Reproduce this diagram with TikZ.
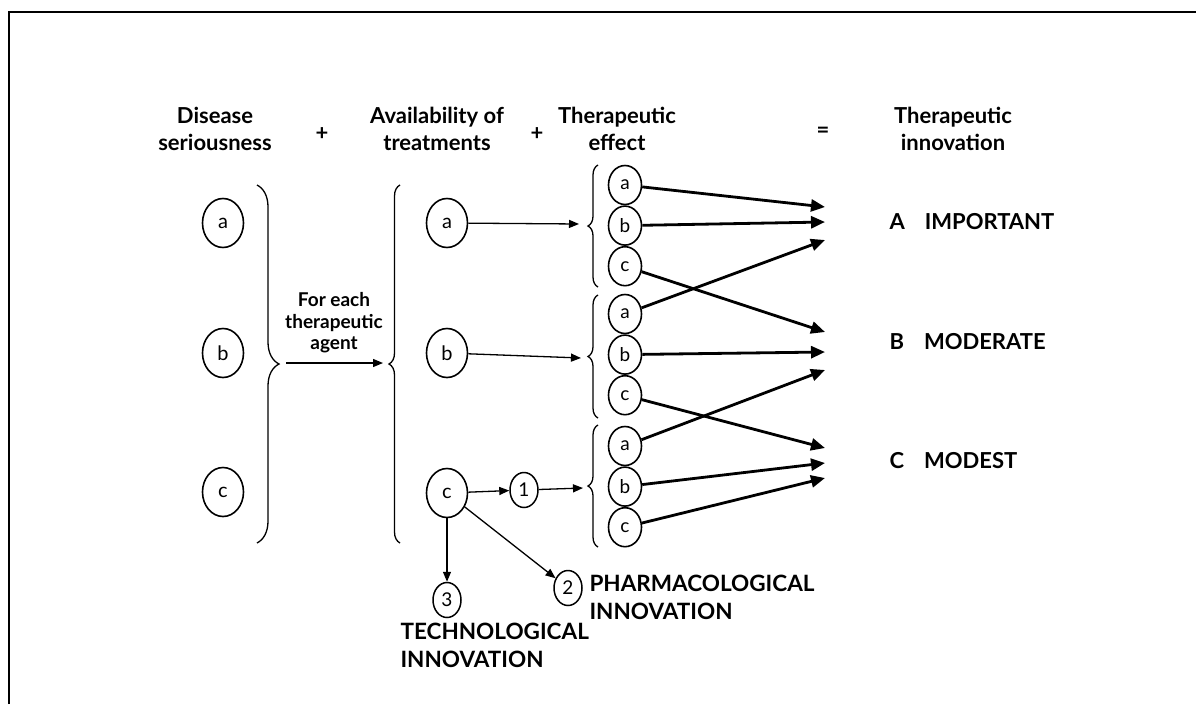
\documentclass[tikz,border=0pt]{standalone}
\usepackage{fontspec}
\setmainfont{Lato}
\usetikzlibrary{shapes.geometric,arrows.meta,decorations.pathreplacing,positioning}
\begin{document}
\begin{tikzpicture}[x=1pt,y=-1pt,
    rond/.style={draw,ellipse,line width=1.6pt,inner sep=0pt,minimum width=41pt,minimum height=49pt,font=\fontsize{20}{20}\selectfont},
    petit/.style={draw,ellipse,line width=1.6pt,inner sep=0pt,minimum width=33pt,minimum height=39pt,font=\fontsize{19}{19}\selectfont},
    chiffre/.style={draw,ellipse,line width=1.5pt,inner sep=0pt,minimum width=28pt,minimum height=35pt,font=\fontsize{19}{19}\selectfont},
    titre/.style={align=center,font=\fontsize{22}{27}\selectfont\bfseries},
    niveau/.style={anchor=west,font=\fontsize{22}{22}\selectfont\bfseries},
    innov/.style={anchor=west,align=left,font=\fontsize{22.5}{28}\selectfont\bfseries},
    fleche/.style={line width=1.3pt,-{Triangle[length=10pt,width=8pt]}},
    grosse/.style={line width=2.8pt,-{Triangle[length=14pt,width=12pt]}},
    accolade/.style={decorate,decoration={brace,amplitude=#1},line width=1.3pt}]
    \useasboundingbox (0,0) rectangle (1196,704);
    \draw[line width=2.5pt] (9,704) -- (9,12) -- (1196,12); %Cadre
    % Titres
    \node[titre] (h1) at (215,129) {Disease\\seriousness};
    \node[titre] (p1) at (322,134) {+};
    \node[titre] (h2) at (437,129) {Availability of\\treatments};
    \node[titre] (p2) at (537,134) {+};
    \node[titre] (h3) at (617,129) {Therapeutic\\effect};
    \node[titre] (eg) at (823,132) {=};
    \node[titre] (h4) at (953,129) {Therapeutic\\innovation};
    % Colonne gauche
    \node[rond] (sa) at (223,223) {a};
    \node[rond] (sb) at (223,353) {b};
    \node[rond] (sc) at (223,492) {c};
    \draw[accolade=22pt] (257,185) -- (257,543); %Accolade droite
    \coordinate (g) at (286,363);
    \coordinate (d) at (383,363);
    \draw[fleche] (g) -- (d);
    \node[align=center,font=\fontsize{19}{21.5}\selectfont\bfseries] (agent) at (334,323) {For each\\therapeutic\\agent};
    \draw[accolade=11pt] (400,543) -- (400,185); %Accolade gauche
    % Colonne milieu
    \node[rond] (ta) at (447,223) {a};
    \node[rond] (tb) at (447,353) {b};
    \node[rond] (tc) at (447,493) {c};
    \node[chiffre] (n1) at (524,490) {1};
    \node[chiffre] (n2) at (568,588) {2};
    \node[chiffre] (n3) at (447,600) {3};
    \coordinate (k1) at (579,224);
    \coordinate (k2) at (581,358);
    \coordinate (k3) at (583,488);
    \draw[fleche] (ta) -- (k1);
    \draw[fleche] (tb) -- (k2);
    \draw[fleche] (tc) -- (n1);
    \draw[fleche] (n1) -- (k3);
    \draw[fleche] (tc) -- (n3);
    \draw[fleche] (tc) -- (n2);
    \node[innov] (pharma) at (586,597) {PHARMACOLOGICAL\\INNOVATION};
    \node[innov] (techno) at (397,645) {TECHNOLOGICAL\\INNOVATION};
    % Colonne effet
    \draw[accolade=10pt] (598,287) -- (598,165);
    \draw[accolade=10pt] (598,418) -- (598,295);
    \draw[accolade=10pt] (598,547) -- (598,425);
    \foreach \g/\y in {1/185,2/314,3/446}{
        \node[petit] (ea\g) at (625,\y) {a};
        \node[petit,below=0pt of ea\g] (eb\g) {b};
        \node[petit,below=0pt of eb\g] (ec\g) {c};
    }
    % Innovation
    \node[niveau] (A) at (886,222) {A\hspace{20pt}IMPORTANT};
    \node[niveau] (B) at (886,342) {B\hspace{20pt}MODERATE};
    \node[niveau] (C) at (886,461) {C\hspace{20pt}MODEST};
    \coordinate (A1) at (825,207); \coordinate (A2) at (825,222); \coordinate (A3) at (825,240);
    \coordinate (B1) at (825,332); \coordinate (B2) at (825,352); \coordinate (B3) at (825,370);
    \coordinate (C1) at (825,448); \coordinate (C2) at (825,463); \coordinate (C3) at (825,478);
    \draw[grosse] (ea1) -- (A1);
    \draw[grosse] (eb1) -- (A2);
    \draw[grosse] (ea2) -- (A3);
    \draw[grosse] (ec1) -- (B1);
    \draw[grosse] (eb2) -- (B2);
    \draw[grosse] (ea3) -- (B3);
    \draw[grosse] (ec2) -- (C1);
    \draw[grosse] (eb3) -- (C2);
    \draw[grosse] (ec3) -- (C3);
\end{tikzpicture}
\end{document}
